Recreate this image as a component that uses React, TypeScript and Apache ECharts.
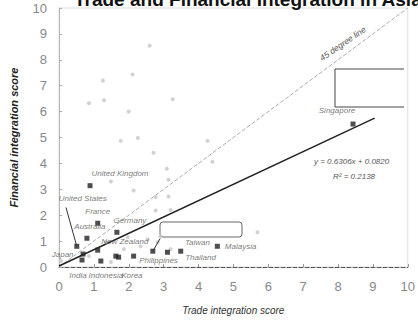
import React, { useEffect, useRef } from "react";
import * as echarts from "echarts";

const xTicks = [0, 1, 2, 3, 4, 5, 6, 7, 8, 9, 10];
const yTicks = [0, 1, 2, 3, 4, 5, 6, 7, 8, 9, 10];

// other countries (light gray dots): [trade, financial]
const otherX = [2.6, 2.11, 1.26, 0.86, 1.29, 3.26, 2.0, 1.77, 2.26, 2.71, 4.26, 3.09, 3.14, 1.49, 2.14, 2.77, 3.2, 4.4, 5.69, 3.14, 2.77, 2.83, 1.34, 1.97, 2.34, 2.54, 2.91, 1.49, 1.86, 3.2, 0.86, 0.06];
const otherY = [8.54, 7.43, 7.2, 6.32, 6.44, 6.48, 6.0, 4.87, 4.98, 4.41, 4.87, 3.79, 3.37, 3.3, 2.95, 2.7, 2.2, 4.06, 1.34, 2.72, 2.18, 0.96, 0.96, 1.15, 0.8, 1.07, 1.19, 0.19, 0.69, 0.69, 0.42, 0.23];

// labelled countries (black squares)
const countries = ["United Kingdom", "United States", "France", "Australia", "Germany", "New Zealand", "Japan", "India", "Indonesia", "Korea", "China", "Philippines", "", "Taiwan", "Thailand", "Malaysia", "Singapore"];
const countryX = [0.89, 0.51, 1.11, 0.8, 1.66, 1.11, 0.69, 0.66, 1.2, 1.63, 1.71, 2.14, 2.69, 3.11, 3.49, 4.54, 8.43];
const countryY = [3.14, 0.8, 1.69, 1.11, 1.34, 0.65, 0.5, 0.27, 0.23, 0.42, 0.38, 0.42, 0.61, 0.57, 0.61, 0.8, 5.52];

// fitted line endpoints and 45-degree line
const fitX = [0, 9.05];
const fitY = [0.04, 5.75];
const diagX = [0, 10];
const diagY = [0, 10];

const equation = "y = 0.6306x + 0.0820";
const rSquared = "R² = 0.2138";

// label placement (style)
const labelStyle: Record<string, any> = {
  "United Kingdom": { position: "top", offset: [30, -1] },
  "United States": { position: "top", offset: [6, -36] },
  France: { position: "top", offset: [0, 0] },
  Australia: { position: "top", offset: [3, 0] },
  Germany: { position: "top", offset: [13, 0] },
  "New Zealand": { position: "right", offset: [-4, -9] },
  Japan: { position: "left", offset: [-2, 0] },
  India: { position: "bottom", offset: [-4, 4] },
  Indonesia: { position: "bottom", offset: [5, 3] },
  Korea: { position: "bottom", offset: [16, 8] },
  China: { show: false },
  Philippines: { position: "right", offset: [-2, 4] },
  "": { show: false },
  Taiwan: { position: "right", offset: [10, -10] },
  Thailand: { position: "right", offset: [-3, 6] },
  Malaysia: { position: "right", offset: [0, 0] },
  Singapore: { position: "top", offset: [-16, -2] },
};

export default function App() {
  const ref = useRef<HTMLDivElement>(null);
  useEffect(() => {
    if (!ref.current) return;
    const chart = echarts.init(ref.current, null, { renderer: "svg" });
    const labelFont = {
      fontFamily: "Liberation Sans",
      fontStyle: "italic" as const,
      fontSize: 8,
      color: "#555",
    };
    const countryData = countries.map((c, i) => ({
      name: c,
      value: [countryX[i], countryY[i]],
      label: { show: c !== "", formatter: c, ...labelFont, ...(labelStyle[c] || {}) },
    }));
    const arrows = [
      [1, [0.2, 2.3]],
      [7, [0.6, -0.15]],
      [8, [1.3, -0.15]],
      [9, [1.95, -0.2]],
      [12, [2.9, 1.1]],
    ].map(([i, from]: any) => [
      { coord: from },
      { coord: [countryX[i], countryY[i]] },
    ]);
    chart.setOption({
      animation: false,
      grid: { left: 58, right: 8, top: 8, bottom: 52, show: true, borderColor: "#ddd", borderWidth: 1 },
      xAxis: {
        type: "value",
        min: xTicks[0],
        max: xTicks[xTicks.length - 1],
        interval: 1,
        name: "Trade integration score",
        nameLocation: "middle",
        nameGap: 38,
        nameTextStyle: { fontFamily: "Liberation Sans", fontStyle: "italic", fontSize: 10, color: "#333" },
        axisLine: { lineStyle: { color: "#555", type: "dashed", width: 1 } },
        axisTick: { show: true, length: 3, inside: true, lineStyle: { color: "#999" } },
        splitLine: { show: false },
        axisLabel: { color: "#888", fontSize: 13, margin: 13, fontFamily: "Liberation Sans" },
      },
      yAxis: {
        type: "value",
        min: yTicks[0],
        max: yTicks[yTicks.length - 1],
        interval: 1,
        name: "Financial integration score",
        nameLocation: "middle",
        nameGap: 40,
        nameRotate: 90,
        nameTextStyle: { fontFamily: "Liberation Sans", fontStyle: "italic", fontWeight: "bold", fontSize: 11, color: "#222" },
        axisLine: { show: true, lineStyle: { color: "#aaa", type: "dotted" } },
        axisTick: { show: true, length: 3, inside: true, lineStyle: { color: "#aaa" } },
        splitLine: { show: false },
        axisLabel: { color: "#888", fontSize: 13, margin: 12, fontFamily: "Liberation Sans" },
      },
      series: [
        {
          type: "line",
          data: diagX.map((x, i) => [x, diagY[i]]),
          symbol: "none",
          lineStyle: { color: "#aaa", type: "dashed", width: 1 },
          z: 1,
        },
        {
          type: "line",
          data: fitX.map((x, i) => [x, fitY[i]]),
          symbol: "none",
          lineStyle: { color: "#222", width: 1.5 },
          z: 2,
        },
        {
          type: "scatter",
          data: otherX.map((x, i) => [x, otherY[i]]),
          symbolSize: 4,
          itemStyle: { color: "#c8c4c4" },
          z: 3,
        },
        {
          type: "scatter",
          data: countryData,
          symbol: "rect",
          symbolSize: 5,
          itemStyle: { color: "#222" },
          z: 4,
          markLine: {
            silent: true,
            symbol: ["none", "none"],
            label: { show: false },
            lineStyle: { color: "#333", type: "solid", width: 1 },
            data: arrows,
          },
        },
      ],
      graphic: [
        {
          type: "text",
          left: 74,
          top: -10,
          style: { text: "Trade and Financial Integration in Asia", fontFamily: "Liberation Sans", fontWeight: "bold", fontSize: 19, fill: "#111" },
        },
        {
          type: "text",
          x: 318,
          y: 55,
          rotation: 0.6,
          style: { text: "45 degree line", fontFamily: "Liberation Sans", fontStyle: "italic", fontSize: 8.5, fill: "#555" },
        },
        {
          type: "polyline",
          shape: { points: [[404, 69], [335, 69], [335, 107], [404, 107]] },
          style: { stroke: "#444", fill: "#fff", lineWidth: 1 },
        },
        {
          type: "rect",
          shape: { x: 160, y: 222, width: 82, height: 15, r: 3 },
          style: { stroke: "#666", fill: "#fff", lineWidth: 1 },
        },
        {
          type: "text",
          x: 314,
          y: 157,
          style: { text: equation, fontFamily: "Liberation Sans", fontStyle: "italic", fontSize: 8, fill: "#555" },
        },
        {
          type: "text",
          x: 333,
          y: 172,
          style: { text: rSquared, fontFamily: "Liberation Sans", fontStyle: "italic", fontSize: 8, fill: "#555" },
        },
      ],
    });
    return () => chart.dispose();
  }, []);
  return <div ref={ref} style={{ width: 418, height: 320, position: "absolute", left: 0, top: 0 }} />;
}
